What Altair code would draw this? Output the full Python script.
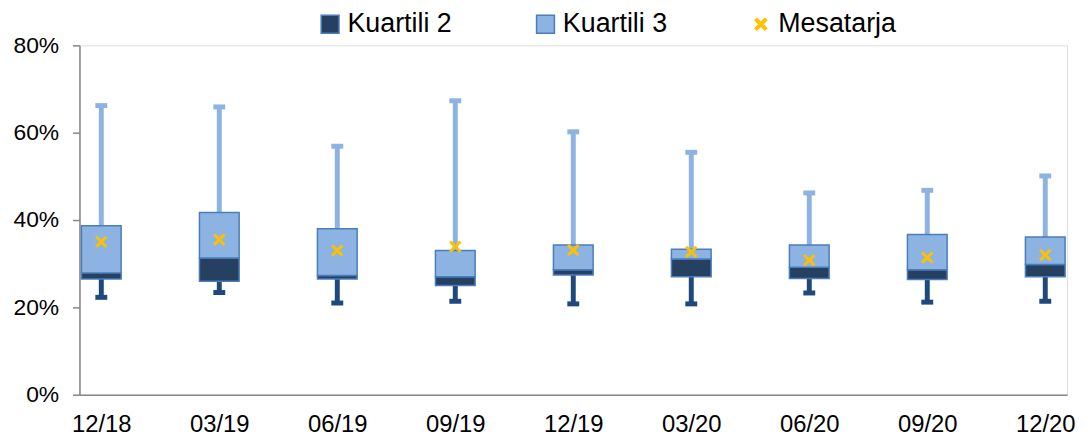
import altair as alt
import pandas as pd

categories = ["12/18", "03/19", "06/19", "09/19", "12/19", "03/20", "06/20", "09/20", "12/20"]
minimum = [22.3, 23.4, 21.0, 21.4, 20.8, 20.8, 23.3, 21.2, 21.4]
q1 = [26.5, 26.0, 26.5, 25.0, 27.4, 27.0, 26.6, 26.4, 27.0]
median = [27.9, 31.3, 27.3, 27.0, 28.6, 31.1, 29.2, 28.6, 29.8]
q3 = [38.7, 41.7, 38.0, 33.0, 34.3, 33.3, 34.3, 36.7, 36.1]
maximum = [66.2, 65.9, 56.9, 67.3, 60.2, 55.5, 46.2, 46.8, 50.1]
mean = [35.0, 35.5, 33.0, 33.9, 33.1, 32.7, 30.8, 31.4, 32.0]
series_names = ["Kuartili 2", "Kuartili 3", "Mesatarja"]

DARK = "#254061"
LIGHT = "#8DB3E2"
BORDER = "#4A7EBB"
WHISK_DARK = "#1F497D"
YELLOW = "#FFC000"
FONT = "Liberation Sans"
X_PATH = ("M-0.65,-0.45L-0.45,-0.65L0,-0.2L0.45,-0.65L0.65,-0.45L0.2,0"
          "L0.65,0.45L0.45,0.65L0,0.2L-0.45,0.65L-0.65,0.45L-0.2,0Z")

df = pd.DataFrame({
    "cat": categories, "min": minimum, "q1": q1, "med": median,
    "q3": q3, "max": maximum, "mean": mean,
    "series": ["Mesatarja"] * len(categories),
})

x = alt.X("cat:O", sort=categories,
          scale=alt.Scale(type="point", padding=0.185),
          axis=alt.Axis(title=None, labelAngle=0, ticks=False, labelPadding=18,
                        labelFontSize=24, domainColor="#868686", domainWidth=1.5))
yscale = alt.Scale(domain=[0, 80])
yaxis = alt.Axis(title=None, values=[0, 20, 40, 60, 80], labelExpr="datum.value + '%'",
                 tickSize=7, tickColor="#868686", domainColor="#868686", domainWidth=1.5,
                 tickWidth=1.5, labelPadding=14, labelFontSize=23, grid=False)

base = alt.Chart(df)

low_rule = base.mark_rule(color=WHISK_DARK, strokeWidth=5).encode(
    x=x, y=alt.Y("min:Q", scale=yscale, axis=yaxis), y2="q1")
up_rule = base.mark_rule(color=LIGHT, strokeWidth=5).encode(
    x=x, y=alt.Y("q3:Q", scale=yscale, axis=yaxis), y2="max")
low_cap = base.mark_tick(color=WHISK_DARK, size=12, thickness=5, opacity=1).encode(
    x=x, y=alt.Y("min:Q", scale=yscale, axis=yaxis))
up_cap = base.mark_tick(color=LIGHT, size=12, thickness=5, opacity=1).encode(
    x=x, y=alt.Y("max:Q", scale=yscale, axis=yaxis))
box2 = base.mark_bar(size=40, fill=DARK, stroke=BORDER, strokeWidth=1.5).encode(
    x=x, y=alt.Y("q1:Q", scale=yscale, axis=yaxis), y2="med")
box3 = base.mark_bar(size=40, fill=LIGHT, stroke=BORDER, strokeWidth=1.5).encode(
    x=x, y=alt.Y("med:Q", scale=yscale, axis=yaxis), y2="q3")

leg = alt.Legend(title=None, orient="none", legendX=239, legendY=-35, direction="horizontal",
                 columns=3, columnPadding=80, labelFontSize=27, labelFont=FONT,
                 symbolSize=324, symbolStrokeWidth=1.5, labelOffset=4, labelColor="black")
means = base.mark_point(filled=True, size=340, strokeWidth=0.5, opacity=1).encode(
    x=x, y=alt.Y("mean:Q", scale=yscale, axis=yaxis),
    fill=alt.Fill("series:N", scale=alt.Scale(domain=series_names, range=[DARK, LIGHT, YELLOW]), legend=leg),
    stroke=alt.Stroke("series:N", scale=alt.Scale(domain=series_names, range=[BORDER, BORDER, YELLOW]), legend=leg),
    shape=alt.Shape("series:N", scale=alt.Scale(domain=series_names, range=["square", "square", X_PATH]), legend=leg),
)

chart = alt.layer(low_rule, up_rule, low_cap, up_cap, box2, box3, means).properties(
    width=995, height=352,
    autosize=alt.AutoSizeParams(type="none"),
    padding={"left": 72, "top": 36, "right": 13, "bottom": 45},
).configure_view(stroke=None).configure_axis(
    labelFont=FONT, labelColor="black"
).configure(background="white")

chart.save("out.html", embed_options={"renderer": "svg", "actions": False})
